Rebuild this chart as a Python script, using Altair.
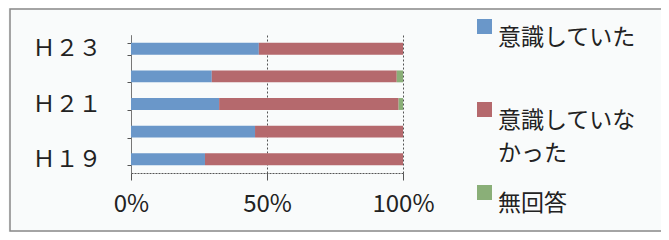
import altair as alt
import pandas as pd

years = ["Ｈ２３", "Ｈ２２", "Ｈ２１", "Ｈ２０", "Ｈ１９"]
shown_labels = ["Ｈ２３", "Ｈ２１", "Ｈ１９"]
series = ["意識していた", "意識していなかった", "無回答"]
conscious = [0.47, 0.297, 0.324, 0.456, 0.272]
not_conscious = [0.53, 0.68, 0.66, 0.544, 0.728]
no_answer = [0.0, 0.023, 0.016, 0.0, 0.0]
colors = ["#6a97c9", "#b5696d", "#8aaf78"]
x_ticks = [0, 0.5, 1]

rows = []
for i, y in enumerate(years):
    for s, vals in zip(series, [conscious, not_conscious, no_answer]):
        rows.append({"year": y, "series": s, "value": vals[i], "order": series.index(s)})
df = pd.DataFrame(rows)

FONT = "Noto Sans CJK JP"

label_expr = "indexof(" + str(shown_labels) + ", datum.value) >= 0 ? datum.value : ''"
legend_label_expr = (
    "datum.value == '意識していなかった' ? ['意識していな', 'かった'] : [datum.value, ' ']"
)

bars = alt.Chart(df).mark_bar().encode(
    x=alt.X("sum(value):Q", stack="zero",
            scale=alt.Scale(domain=[0, 1], nice=False),
            axis=alt.Axis(values=x_ticks, format=".0%", title=None, grid=True,
                          gridColor="#555", gridDash=[2, 2], gridWidth=1,
                          domainColor="#555", domainDash=[2, 1], tickColor="#555",
                          tickSize=7, labelFontSize=24, labelPadding=12,
                          labelFlush=False,
                          labelColor="#222", labelFont=FONT)),
    y=alt.Y("year:N", sort=years,
            scale=alt.Scale(paddingInner=0.57, paddingOuter=0.285),
            axis=alt.Axis(title=None, labelExpr=label_expr, tickBand="extent",
                          tickSize=4, tickColor="#555", domainColor="#777",
                          labelFontSize=23, labelPadding=26, labelColor="#222",
                          labelFont=FONT)),
    color=alt.Color("series:N", sort=series,
                    scale=alt.Scale(domain=series, range=colors),
                    legend=alt.Legend(title=None, orient="none", legendX=342, legendY=-20,
                                      symbolType="square", symbolSize=225,
                                      symbolStrokeWidth=0, labelFontSize=23,
                                      labelFont=FONT, labelColor="#222",
                                      labelOffset=2, rowPadding=15,
                                      labelExpr=legend_label_expr,
                                      labelBaseline="top")),
    order=alt.Order("order:Q"),
)

border = alt.Chart(pd.DataFrame({"a": [0]})).mark_rect(
    fill=None, stroke="#888", strokeWidth=1.5, clip=False
).encode(x=alt.value(-121), x2=alt.value(531), y=alt.value(-26), y2=alt.value(196))

chart = alt.layer(border, bars).properties(
    width=272, height=138,
    padding={"left": 123, "top": 27, "right": 258, "bottom": 59},
    autosize=alt.AutoSizeParams(type="none"),
    background="#f9fbfb",
).configure(style={"guide-label": {"lineHeight": 33}}).configure_view(stroke=None)

chart.save("out.html", embed_options={"renderer": "svg", "actions": False})
